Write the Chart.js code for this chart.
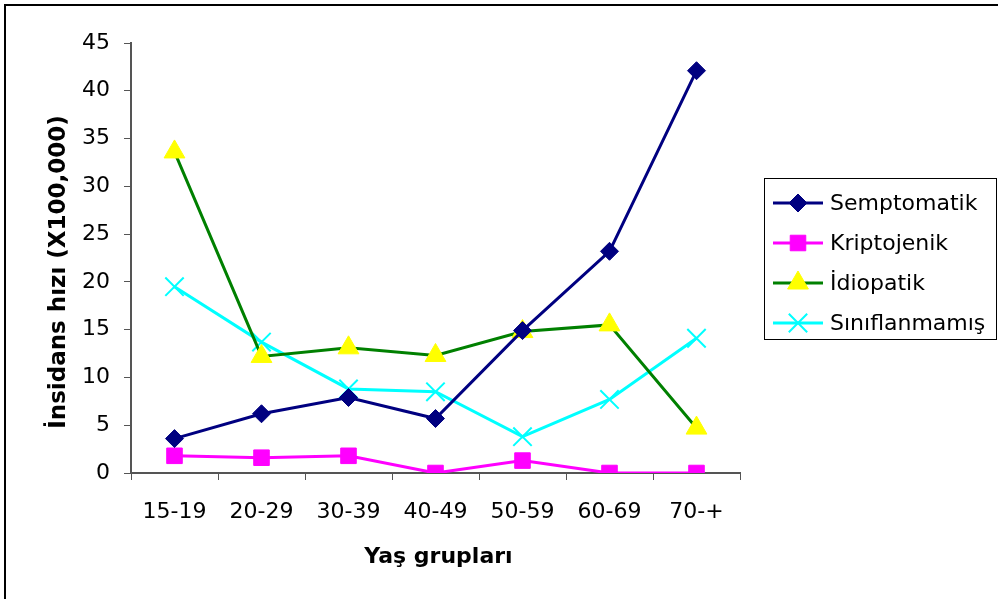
<!DOCTYPE html>
<html lang="tr">
<head>
<meta charset="UTF-8">
<title>İnsidans hızı</title>
<script src="https://cdn.jsdelivr.net/npm/chart.js"></script>
<style>
  html, body { margin: 0; padding: 0; background: #fff; }
  #kutu { width: 998px; height: 599px; }
</style>
</head>
<body>
<div id="kutu"><canvas id="grafik" width="998" height="599"></canvas></div>
<script>
// veriler
var gruplar = ['15-19', '20-29', '30-39', '40-49', '50-59', '60-69', '70-+'];
var semptomatik = [3.6, 6.2, 7.9, 5.7, 14.9, 23.2, 42.1];
var kriptojenik = [1.8, 1.6, 1.8, 0, 1.3, 0, 0];
var idiopatik = [33.6, 12.2, 13.1, 12.3, 14.8, 15.5, 4.7];
var siniflanmamis = [19.5, 13.7, 8.8, 8.5, 3.8, 7.7, 14.1];
var yTikler = [0, 5, 10, 15, 20, 25, 30, 35, 40, 45];

var yazi = '"DejaVu Sans", "Liberation Sans", Arial, sans-serif';
Chart.defaults.font.family = yazi;
Chart.defaults.color = '#000';

// çerçeve, eksen başlıkları ve lejant
var cerceve = {
  id: 'cerceve',
  afterDraw: function (chart) {
    var ctx = chart.ctx;
    var alan = chart.chartArea;
    ctx.save();
    ctx.strokeStyle = '#000';
    ctx.lineWidth = 2;
    ctx.beginPath();
    ctx.moveTo(5, 599);
    ctx.lineTo(5, 5);
    ctx.lineTo(998, 5);
    ctx.stroke();

    // eksen başlıkları
    ctx.fillStyle = '#000';
    ctx.textAlign = 'center';
    ctx.textBaseline = 'middle';
    ctx.font = 'bold 22px ' + yazi;
    ctx.fillText('Yaş grupları', (alan.left + alan.right) / 2 + 3, 557);
    ctx.save();
    ctx.font = 'bold 23px ' + yazi;
    ctx.translate(59, 272);
    ctx.rotate(-Math.PI / 2);
    ctx.fillText('İnsidans hızı (X100,000)', 0, 0);
    ctx.restore();

    // lejant kutusu
    var x0 = 764, y0 = 178, w = 232, h = 161;
    ctx.strokeStyle = '#000';
    ctx.lineWidth = 1;
    ctx.strokeRect(x0 + 0.5, y0 + 0.5, w, h);
    ctx.font = '22px ' + yazi;
    ctx.textAlign = 'left';
    var ds = chart.data.datasets;
    for (var i = 0; i < ds.length; i++) {
      var y = 203 + i * 40;
      ctx.strokeStyle = ds[i].borderColor;
      ctx.lineWidth = 3;
      ctx.beginPath();
      ctx.moveTo(773, y);
      ctx.lineTo(823, y);
      ctx.stroke();
      ctx.fillStyle = ds[i].pointBackgroundColor;
      ctx.strokeStyle = ds[i].pointBorderColor;
      ctx.lineWidth = ds[i].pointBorderWidth;
      Chart.helpers.drawPoint(ctx, {
        pointStyle: ds[i].pointStyle,
        radius: ds[i].pointRadius,
        borderWidth: ds[i].pointBorderWidth
      }, 798, y);
      ctx.fillStyle = '#000';
      ctx.fillText(ds[i].label, 830, y + 1);
    }
    ctx.restore();
  }
};

var config = {
  type: 'line',
  data: {
    labels: gruplar,
    datasets: [{
      label: 'Semptomatik',
      data: semptomatik,
      borderColor: '#000080',
      borderWidth: 3,
      pointStyle: 'rectRot',
      pointRadius: 9,
      pointBackgroundColor: '#000080',
      pointBorderColor: '#000080',
      pointBorderWidth: 1
    }, {
      label: 'Kriptojenik',
      data: kriptojenik,
      borderColor: '#FF00FF',
      borderWidth: 3,
      pointStyle: 'rect',
      pointRadius: 11,
      pointBackgroundColor: '#FF00FF',
      pointBorderColor: '#FF00FF',
      pointBorderWidth: 1
    }, {
      label: 'İdiopatik',
      data: idiopatik,
      borderColor: '#008000',
      borderWidth: 3,
      pointStyle: 'triangle',
      pointRadius: 12,
      pointBackgroundColor: '#FFFF00',
      pointBorderColor: '#FFFF00',
      pointBorderWidth: 1
    }, {
      label: 'Sınıflanmamış',
      data: siniflanmamis,
      borderColor: '#00FFFF',
      borderWidth: 3,
      pointStyle: 'crossRot',
      pointRadius: 13,
      pointBackgroundColor: '#00FFFF',
      pointBorderColor: '#00FFFF',
      pointBorderWidth: 2
    }]
  },
  options: {
    responsive: false,
    animation: false,
    layout: { padding: { left: 40, right: 258, top: 43, bottom: 20 } },
    plugins: { legend: { display: false }, tooltip: { enabled: false } },
    elements: { line: { tension: 0 } },
    scales: {
      x: {
        offset: true,
        grid: { offset: true, drawOnChartArea: false, drawTicks: true, tickLength: 7, color: '#555' },
        border: { color: '#555', width: 2 },
        ticks: { font: { size: 22 }, padding: 19, color: '#000' },
        afterFit: function (s) { s.height = 106; }
      },
      y: {
        min: 0,
        max: 45,
        afterBuildTicks: function (s) { s.ticks = yTikler.map(function (v) { return { value: v }; }); },
        grid: { drawOnChartArea: false, drawTicks: true, tickLength: 7, color: '#555' },
        border: { color: '#555', width: 2 },
        ticks: { font: { size: 22 }, padding: 14, color: '#000' },
        afterFit: function (s) { s.width = 91; }
      }
    }
  },
  plugins: [cerceve]
};

new Chart(document.getElementById('grafik'), config);
</script>
</body>
</html>
